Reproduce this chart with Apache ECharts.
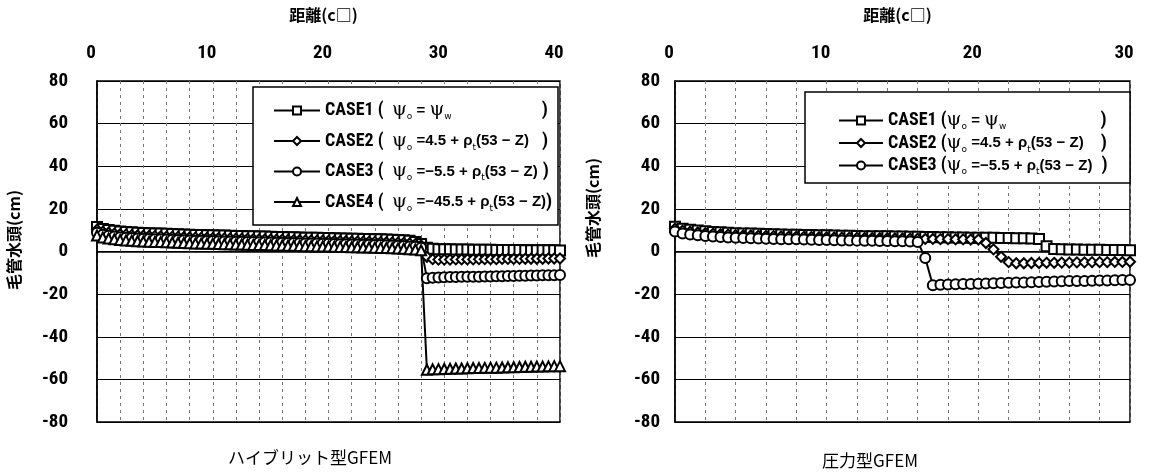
<!DOCTYPE html>
<html>
<head>
<meta charset="utf-8">
<script src="https://cdn.jsdelivr.net/npm/echarts@6/dist/echarts.min.js"></script>
<style>
  html, body { margin: 0; padding: 0; background: #fff; }
  #chart { width: 1149px; height: 476px; }
</style>
</head>
<body>
<div id="chart"></div>
<script>
// 距離 (cm) sampled every 0.5
const leftX = [0, 0.5, 1, 1.5, 2, 2.5, 3, 3.5, 4, 4.5, 5, 5.5, 6, 6.5, 7, 7.5, 8, 8.5, 9, 9.5,
  10, 10.5, 11, 11.5, 12, 12.5, 13, 13.5, 14, 14.5, 15, 15.5, 16, 16.5, 17, 17.5, 18, 18.5, 19, 19.5,
  20, 20.5, 21, 21.5, 22, 22.5, 23, 23.5, 24, 24.5, 25, 25.5, 26, 26.5, 27, 27.5, 28, 28.5, 29, 29.5,
  30, 30.5, 31, 31.5, 32, 32.5, 33, 33.5, 34, 34.5, 35, 35.5, 36, 36.5, 37, 37.5, 38, 38.5, 39, 39.5, 40]
const rightX = [0, 0.5, 1, 1.5, 2, 2.5, 3, 3.5, 4, 4.5, 5, 5.5, 6, 6.5, 7, 7.5, 8, 8.5, 9, 9.5,
  10, 10.5, 11, 11.5, 12, 12.5, 13, 13.5, 14, 14.5, 15, 15.5, 16, 16.5, 17, 17.5, 18, 18.5, 19, 19.5,
  20, 20.5, 21, 21.5, 22, 22.5, 23, 23.5, 24, 24.5, 25, 25.5, 26, 26.5, 27, 27.5, 28, 28.5, 29, 29.5, 30]

// ハイブリット型GFEM : 毛管水頭 (cm)
const leftCase1 = [11.5, 10.6, 10.1, 9.7, 9.4, 9.2, 9.0, 8.8, 8.7, 8.6,
  8.5, 8.4, 8.3, 8.2, 8.1, 8.0, 7.9, 7.8, 7.7, 7.65,
  7.6, 7.5, 7.45, 7.4, 7.3, 7.25, 7.2, 7.1, 7.0, 7.0,
  6.9, 6.85, 6.8, 6.7, 6.65, 6.6, 6.5, 6.45, 6.4, 6.35,
  6.3, 6.2, 6.15, 6.1, 6.0, 5.95, 5.9, 5.85, 5.8, 5.7,
  5.6, 5.5, 5.4, 5.3, 5.0, 4.5, 3.5,
  1.8, 1.3, 1.1, 1.0, 1.0, 0.9, 0.9, 0.9, 0.8, 0.8, 0.8, 0.8, 0.7, 0.7, 0.7, 0.7, 0.7, 0.6, 0.6, 0.6, 0.6, 0.6, 0.6, 0.5]
const leftCase2 = [10.2, 9.3, 8.8, 8.4, 8.1, 7.9, 7.7, 7.5, 7.4, 7.3,
  7.2, 7.1, 7.0, 6.9, 6.8, 6.7, 6.6, 6.5, 6.4, 6.35,
  6.3, 6.2, 6.15, 6.1, 6.0, 5.95, 5.9, 5.8, 5.7, 5.7,
  5.6, 5.55, 5.5, 5.4, 5.35, 5.3, 5.2, 5.15, 5.1, 5.05,
  5.0, 4.9, 4.85, 4.8, 4.7, 4.65, 4.6, 4.55, 4.5, 4.4,
  4.3, 4.2, 4.1, 4.0, 3.8, 3.5, 2.8,
  -2.5, -3.6, -3.8, -3.8, -3.8, -3.7, -3.7, -3.7, -3.7, -3.6, -3.6, -3.6, -3.6, -3.5, -3.5, -3.5, -3.5, -3.4, -3.4, -3.4, -3.4, -3.3, -3.3, -3.3]
const leftCase3 = [8.8, 7.9, 7.4, 7.0, 6.7, 6.5, 6.3, 6.1, 6.0, 5.9,
  5.8, 5.7, 5.6, 5.5, 5.4, 5.3, 5.2, 5.1, 5.0, 4.95,
  4.9, 4.8, 4.75, 4.7, 4.6, 4.55, 4.5, 4.4, 4.3, 4.3,
  4.2, 4.15, 4.1, 4.0, 3.95, 3.9, 3.8, 3.75, 3.7, 3.65,
  3.6, 3.5, 3.45, 3.4, 3.3, 3.25, 3.2, 3.15, 3.1, 3.0,
  2.9, 2.8, 2.7, 2.6, 2.4, 2.2, 1.8,
  -12.5, -12.3, -12.2, -12.1, -12.0, -12.0, -11.9, -11.9, -11.8, -11.8, -11.7, -11.7, -11.6, -11.6, -11.5, -11.5, -11.4, -11.4, -11.3, -11.3, -11.2, -11.2, -11.1, -11.0]
const leftCase4 = [7.5, 6.6, 6.1, 5.7, 5.4, 5.2, 5.0, 4.8, 4.7, 4.6,
  4.5, 4.4, 4.3, 4.2, 4.1, 4.0, 3.9, 3.8, 3.7, 3.65,
  3.6, 3.5, 3.45, 3.4, 3.3, 3.25, 3.2, 3.1, 3.0, 3.0,
  2.9, 2.85, 2.8, 2.7, 2.65, 2.6, 2.5, 2.45, 2.4, 2.35,
  2.3, 2.2, 2.15, 2.1, 2.0, 1.95, 1.9, 1.85, 1.8, 1.7,
  1.6, 1.5, 1.4, 1.3, 1.1, 0.9, 0.6,
  -55.5, -55.3, -55.2, -55.1, -55.0, -54.9, -54.9, -54.8, -54.7, -54.7, -54.6, -54.5, -54.5, -54.4, -54.3, -54.3, -54.2, -54.1, -54.1, -54.0, -54.0, -53.9, -53.8, -53.8]

// 圧力型GFEM : 毛管水頭 (cm)
const rightCase1 = [11.6, 10.7, 10.2, 9.8, 9.5, 9.2, 9.0, 8.8, 8.6, 8.5,
  8.4, 8.3, 8.2, 8.1, 8.0, 7.9, 7.9, 7.8, 7.7, 7.6,
  7.6, 7.5, 7.4, 7.4, 7.3, 7.2, 7.2, 7.1, 7.1, 7.0,
  7.0, 6.9, 6.9, 6.8, 6.8, 6.7, 6.7, 6.6, 6.6, 6.5,
  6.5, 6.4, 6.4, 6.3, 6.3, 6.2, 6.2, 6.1, 5.9,
  2.5, 1.2, 1.0, 0.9, 0.9, 0.8, 0.8, 0.8, 0.7, 0.7, 0.7, 0.6]
const rightCase2 = [10.7, 9.8, 9.3, 8.9, 8.6, 8.3, 8.1, 7.9, 7.7, 7.6,
  7.5, 7.4, 7.3, 7.2, 7.1, 7.0, 7.0, 6.9, 6.8, 6.7,
  6.7, 6.6, 6.5, 6.5, 6.4, 6.3, 6.3, 6.2, 6.2, 6.1,
  6.1, 6.0, 6.0, 5.9, 5.9, 5.8, 5.8, 5.7, 5.7, 5.6,
  5.6, 4.0, 1.0, -2.5, -5.0, -5.5, -5.5, -5.4, -5.4, -5.3, -5.3, -5.2, -5.2, -5.1, -5.1, -5.0, -5.0, -5.0, -4.9, -4.9, -4.8]
const rightCase3 = [9.4, 8.5, 8.0, 7.6, 7.3, 7.0, 6.8, 6.6, 6.4, 6.3,
  6.2, 6.1, 6.0, 5.9, 5.8, 5.7, 5.7, 5.6, 5.5, 5.4,
  5.4, 5.3, 5.2, 5.2, 5.1, 5.0, 5.0, 4.9, 4.9, 4.8,
  4.8, 4.7, 4.5,
  -3.0, -15.8, -15.6, -15.5, -15.4, -15.3, -15.2, -15.1, -15.0, -14.9, -14.8, -14.7, -14.6, -14.5, -14.4,
  -14.3, -14.2, -14.1, -14.0, -13.9, -13.8, -13.8, -13.7, -13.6, -13.6, -13.5, -13.4, -13.4]

const leftXTicks = [0, 40, 10]
const rightXTicks = [0, 30, 10]
const yTicks = [-80, 80, 20]

const leftLegend = {
  'L1': '{c|CASE1 (  }{p|ψ}{s|o}{e| = }{p|ψ}{s|w}{w1| }{r|)}',
  'L2': '{c|CASE2 (  }{p|ψ}{s|o}{e| =4.5 + ρ}{s|t}{z2l|(53 − Z)}{r|)}',
  'L3': '{c|CASE3 (  }{p|ψ}{s|o}{e| =−5.5 + ρ}{s|t}{z3l|(53 − Z)}{r|)}',
  'L4': '{c|CASE4 (  }{p|ψ}{s|o}{e| =−45.5 + ρ}{s|t}{e|(53 − Z)}{r|)}'
}
const rightLegend = {
  'R1': '{c|CASE1 (}{p|ψ}{s|o}{e| = }{p|ψ}{s|w}{w2| }{r|)}',
  'R2': '{c|CASE2 (}{p|ψ}{s|o}{e| =4.5 + ρ}{s|t}{z2r|(53 − Z)}{r|)}',
  'R3': '{c|CASE3 (}{p|ψ}{s|o}{e| =−5.5 + ρ}{s|t}{z3r|(53 − Z)}{r|)}'
}

const cond = '"Roboto Condensed", "Liberation Sans Narrow", "DejaVu Sans Condensed", Roboto, sans-serif'
const cjk = '"Noto Sans CJK JP", sans-serif'

function zip(xs, ys) {
  const out = []
  for (let i = 0; i < ys.length; i++) {
    out.push([xs[i], ys[i]])
  }
  return out
}

function makeSeries(name, symbol, xs, ys, idx) {
  return {
    name: name,
    type: 'line',
    xAxisIndex: idx,
    yAxisIndex: idx,
    data: zip(xs, ys),
    symbol: symbol,
    symbolSize: 10,
    lineStyle: { color: '#000', width: 2 },
    itemStyle: { color: '#fff', borderColor: '#000', borderWidth: 2 },
    emphasis: { disabled: true }
  }
}

const formulaFont = { fontFamily: '"Liberation Sans", sans-serif', fontWeight: 'bold', fontSize: 15, color: '#000', lineHeight: 22 }
const rich = {
  c: { fontFamily: cond, fontWeight: 'bold', fontSize: 18, color: '#000', lineHeight: 22 },
  r: { fontFamily: cond, fontWeight: 'bold', fontSize: 19, color: '#000', lineHeight: 22 },
  p: { fontFamily: 'DejaVu Serif', fontSize: 19, color: '#000', lineHeight: 22 },
  s: { fontFamily: 'DejaVu Sans', fontSize: 9, color: '#000', verticalAlign: 'bottom', lineHeight: 16 },
  e: formulaFont,
  z2l: Object.assign({ width: 66 }, formulaFont),
  z3l: Object.assign({ width: 58 }, formulaFont),
  z2r: Object.assign({ width: 70 }, formulaFont),
  z3r: Object.assign({ width: 62 }, formulaFont),
  w1: { width: 90 },
  w2: { width: 94 }
}

function xAxisOf(grid, ticks) {
  return {
    type: 'value',
    gridIndex: grid,
    position: 'top',
    min: ticks[0],
    max: ticks[1],
    interval: ticks[2],
    name: '距離(c□)',
    nameLocation: 'middle',
    nameGap: 58,
    nameTextStyle: { fontFamily: cjk, fontWeight: 'bold', fontSize: 16, color: '#000', padding: [0, 10, 0, 0] },
    axisLine: { lineStyle: { color: '#000', width: 1.5 } },
    axisTick: { show: false },
    axisLabel: { margin: 18, padding: [0, 12, 0, 0], fontFamily: cond, fontWeight: 'bold', fontSize: 19, color: '#000' },
    splitLine: { show: true, lineStyle: { color: '#777', type: [3, 4], width: 1 } },
    minorTick: { show: false, splitNumber: 5 },
    minorSplitLine: { show: true, lineStyle: { color: '#777', type: [3, 4], width: 1 } }
  }
}

function yAxisOf(grid, margin) {
  return {
    type: 'value',
    gridIndex: grid,
    min: yTicks[0],
    max: yTicks[1],
    interval: yTicks[2],
    axisLine: { show: true, lineStyle: { color: '#000', width: 1.5 } },
    axisTick: { show: false },
    axisLabel: { margin: margin, fontFamily: cond, fontWeight: 'bold', fontSize: 19, color: '#000' },
    splitLine: { show: true, lineStyle: { color: '#000', width: 1 } }
  }
}

const chart = echarts.init(document.getElementById('chart'))
chart.setOption({
  animation: false,
  backgroundColor: '#fff',
  grid: [
    { left: 97, top: 81, width: 463, height: 341, show: true, borderColor: '#000', borderWidth: 1.5 },
    { left: 675, top: 81, width: 455, height: 341, show: true, borderColor: '#000', borderWidth: 1.5 }
  ],
  xAxis: [xAxisOf(0, leftXTicks), xAxisOf(1, rightXTicks)],
  yAxis: [yAxisOf(0, 29), yAxisOf(1, 15)],
  legend: [
    {
      data: ['L1', 'L2', 'L3', 'L4'],
      orient: 'vertical',
      left: 268,
      top: 96,
      itemWidth: 46,
      itemHeight: 10,
      itemGap: 10,
      z: 20,
      formatter: name => leftLegend[name],
      textStyle: { rich: rich }
    },
    {
      data: ['R1', 'R2', 'R3'],
      orient: 'vertical',
      left: 833,
      top: 106,
      itemWidth: 44,
      itemHeight: 10,
      itemGap: 2,
      z: 20,
      formatter: name => rightLegend[name],
      textStyle: { rich: rich }
    }
  ],
  graphic: [
    { type: 'rect', z: 10, shape: { x: 253, y: 87, width: 305, height: 138 },
      style: { fill: '#fff', stroke: '#000', lineWidth: 1.5 } },
    { type: 'rect', z: 10, shape: { x: 805, y: 92, width: 325, height: 91 },
      style: { fill: '#fff', stroke: '#000', lineWidth: 1.5 } },
    { type: 'text', x: 14, y: 240, rotation: Math.PI / 2,
      style: { text: '毛管水頭(cm)', fontFamily: cjk, fontWeight: 'bold', fontSize: 16, fill: '#000', align: 'center', verticalAlign: 'middle' } },
    { type: 'text', x: 593, y: 208, rotation: Math.PI / 2,
      style: { text: '毛管水頭(cm)', fontFamily: cjk, fontWeight: 'bold', fontSize: 16, fill: '#000', align: 'center', verticalAlign: 'middle' } },
    { type: 'text', x: 310, y: 458,
      style: { text: 'ハイブリット型GFEM', fontFamily: cjk, fontSize: 17, fill: '#000', align: 'center', verticalAlign: 'middle' } },
    { type: 'text', x: 870, y: 461,
      style: { text: '圧力型GFEM', fontFamily: cjk, fontSize: 17, fill: '#000', align: 'center', verticalAlign: 'middle' } }
  ],
  series: [
    makeSeries('L1', 'rect', leftX, leftCase1, 0),
    makeSeries('L2', 'diamond', leftX, leftCase2, 0),
    makeSeries('L3', 'circle', leftX, leftCase3, 0),
    makeSeries('L4', 'triangle', leftX, leftCase4, 0),
    makeSeries('R1', 'rect', rightX, rightCase1, 1),
    makeSeries('R2', 'diamond', rightX, rightCase2, 1),
    makeSeries('R3', 'circle', rightX, rightCase3, 1)
  ]
})
</script>
</body>
</html>
